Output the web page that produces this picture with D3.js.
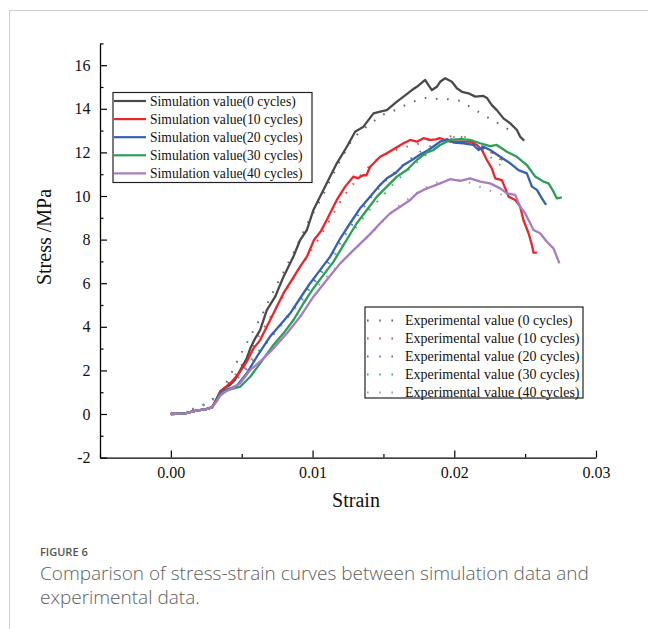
<!DOCTYPE html>
<html>
<head>
<meta charset="utf-8">
<script src="https://cdn.jsdelivr.net/npm/d3@7"></script>
<style>
  body { margin: 0; background: #fff; }
  svg { display: block; }
</style>
</head>
<body>
<div id="chart"></div>
<script>
// stress-strain data: [strain, stress MPa]
const sim0 = [[0,0],[0.001,0.03],[0.0018,0.15],[0.0025,0.22],[0.0029,0.3],[0.0032,0.65],[0.0035,1.05],[0.0038,1.2],[0.0041,1.3],[0.00454,1.58],[0.0049,2.02],[0.00536,2.55],[0.0056,3.0],[0.00595,3.47],[0.0063,3.85],[0.00677,4.77],[0.00736,5.38],[0.00795,6.3],[0.00865,7.22],[0.00912,7.98],[0.0096,8.44],[0.01006,9.36],[0.011,10.58],[0.01171,11.5],[0.01242,12.26],[0.013,12.95],[0.01359,13.18],[0.0143,13.79],[0.01477,13.87],[0.01524,13.94],[0.01595,14.33],[0.01642,14.56],[0.01701,14.86],[0.01736,15.01],[0.01778,15.24],[0.01795,15.32],[0.01818,15.09],[0.01842,14.86],[0.01877,15.01],[0.019,15.24],[0.01936,15.4],[0.01983,15.24],[0.02018,14.94],[0.02054,14.78],[0.021,14.71],[0.02148,14.56],[0.02206,14.59],[0.0223,14.5],[0.02265,14.17],[0.023,13.94],[0.02347,13.56],[0.02395,13.33],[0.02442,13.03],[0.02465,12.72],[0.02493,12.54]];
const sim10 = [[0,0],[0.001,0.03],[0.0018,0.15],[0.0025,0.22],[0.0029,0.3],[0.0032,0.65],[0.0035,1.02],[0.0038,1.2],[0.0043,1.48],[0.00489,1.94],[0.00536,2.4],[0.00583,3.01],[0.0063,3.39],[0.00677,4.0],[0.00736,4.77],[0.00795,5.54],[0.00854,6.15],[0.00912,6.76],[0.0096,7.22],[0.0101,7.98],[0.0106,8.4],[0.011,8.9],[0.01171,9.82],[0.0123,10.43],[0.01289,10.89],[0.0132,10.81],[0.01359,10.96],[0.0138,10.95],[0.01406,11.34],[0.01477,11.8],[0.01524,11.96],[0.01583,12.19],[0.01642,12.42],[0.01689,12.57],[0.01736,12.49],[0.01783,12.65],[0.0183,12.57],[0.0187,12.6],[0.019,12.65],[0.01971,12.49],[0.02042,12.49],[0.02112,12.49],[0.0216,12.34],[0.02195,12.11],[0.0223,11.65],[0.02265,11.27],[0.02289,10.81],[0.02336,10.73],[0.0236,10.35],[0.02383,9.97],[0.0243,9.82],[0.02465,9.51],[0.02488,8.9],[0.02524,8.29],[0.02548,7.75],[0.02559,7.4],[0.02583,7.4]];
const sim20 = [[0,0],[0.001,0.03],[0.0018,0.15],[0.0025,0.22],[0.0029,0.3],[0.0032,0.6],[0.0035,0.95],[0.0038,1.1],[0.0043,1.2],[0.00466,1.3],[0.00536,1.87],[0.00607,2.63],[0.007,3.55],[0.00771,4.08],[0.00842,4.62],[0.00912,5.31],[0.00983,6.0],[0.01054,6.61],[0.01124,7.22],[0.01195,8.05],[0.01265,8.75],[0.01336,9.44],[0.01406,9.97],[0.01465,10.43],[0.01524,10.81],[0.01583,11.04],[0.01642,11.42],[0.01701,11.65],[0.0176,11.9],[0.01818,12.11],[0.0185,12.26],[0.019,12.49],[0.01948,12.61],[0.01995,12.45],[0.02065,12.42],[0.02135,12.34],[0.02171,12.11],[0.02206,12.26],[0.02253,12.11],[0.02324,11.8],[0.02395,11.5],[0.02453,11.19],[0.02512,11.04],[0.02548,10.43],[0.02583,10.28],[0.02618,9.89],[0.02648,9.59]];
const sim30 = [[0,0],[0.001,0.03],[0.0018,0.15],[0.0025,0.22],[0.0029,0.3],[0.0032,0.58],[0.0035,0.9],[0.0038,1.05],[0.0043,1.15],[0.00489,1.25],[0.0056,1.71],[0.0063,2.32],[0.00724,3.17],[0.00795,3.7],[0.00865,4.31],[0.00936,5.08],[0.01006,5.77],[0.01077,6.38],[0.01148,6.99],[0.01218,7.75],[0.0126,8.2],[0.01312,8.75],[0.01383,9.36],[0.01454,9.97],[0.01524,10.43],[0.01595,10.89],[0.01665,11.19],[0.01736,11.65],[0.01807,12.0],[0.0185,12.1],[0.019,12.34],[0.01971,12.57],[0.02042,12.61],[0.02112,12.57],[0.02183,12.42],[0.02253,12.29],[0.023,12.34],[0.02371,12.03],[0.02442,11.8],[0.02512,11.42],[0.02571,10.89],[0.0263,10.66],[0.02665,10.58],[0.027,10.2],[0.02724,9.89],[0.02759,9.94]];
const sim40 = [[0,0],[0.001,0.03],[0.0018,0.15],[0.0025,0.22],[0.0029,0.3],[0.0032,0.55],[0.0035,0.85],[0.0038,1.0],[0.0042,1.15],[0.0045,1.25],[0.00489,1.41],[0.0056,2.02],[0.0063,2.4],[0.00724,3.01],[0.00819,3.7],[0.00912,4.46],[0.01006,5.38],[0.011,6.15],[0.01195,6.91],[0.01289,7.52],[0.01406,8.25],[0.01477,8.75],[0.01548,9.21],[0.01618,9.51],[0.01689,9.82],[0.01736,10.12],[0.01783,10.28],[0.0183,10.4],[0.019,10.58],[0.01971,10.77],[0.02042,10.69],[0.02112,10.81],[0.02183,10.66],[0.02253,10.58],[0.02324,10.35],[0.02371,10.12],[0.0243,10.05],[0.02465,9.51],[0.025,9.21],[0.02559,8.44],[0.02606,8.29],[0.02653,7.9],[0.027,7.6],[0.02742,6.91]];

const exp0 = [[0,0],[0.001,0.05],[0.0018,0.3],[0.0025,0.46],[0.0032,0.8],[0.0036,1.1],[0.0041,1.64],[0.0048,2.58],[0.0056,3.55],[0.0064,4.5],[0.0071,5.46],[0.0079,6.45],[0.0087,7.45],[0.0097,8.82],[0.0108,10.12],[0.0117,11.34],[0.0128,12.6],[0.0135,13.03],[0.0149,13.72],[0.0156,13.87],[0.0163,14.1],[0.0171,14.33],[0.018,14.5],[0.0188,14.45],[0.0196,14.44],[0.0204,14.37],[0.0211,14.1],[0.0218,13.82],[0.0226,13.52],[0.0233,13.26],[0.024,12.98]];
const exp10 = [[0,0],[0.001,0.05],[0.0018,0.3],[0.0025,0.46],[0.0032,0.8],[0.0038,1.2],[0.0045,1.75],[0.0053,2.55],[0.006,3.35],[0.0068,4.2],[0.0075,4.95],[0.0083,5.85],[0.0091,6.7],[0.0099,7.5],[0.0106,8.2],[0.0113,9.0],[0.0121,9.9],[0.0131,10.73],[0.0136,11.12],[0.0145,11.65],[0.0154,12.0],[0.0162,12.19],[0.0176,12.42],[0.0184,12.63],[0.0191,12.67],[0.0199,12.75],[0.0206,12.69],[0.0214,12.52],[0.0222,12.19],[0.0229,11.85],[0.0237,11.45]];
const exp20 = [[0,0],[0.001,0.05],[0.0018,0.3],[0.0025,0.46],[0.0032,0.8],[0.0038,1.15],[0.0046,1.55],[0.0054,2.1],[0.0062,2.8],[0.007,3.5],[0.0078,4.15],[0.0086,4.8],[0.0094,5.5],[0.0102,6.2],[0.011,6.9],[0.0118,7.7],[0.0126,8.5],[0.0134,9.3],[0.0142,10.0],[0.015,10.6],[0.0158,11.1],[0.0166,11.55],[0.0174,11.95],[0.0182,12.25],[0.019,12.5],[0.0198,12.62],[0.0206,12.6],[0.0214,12.45],[0.0222,12.2],[0.023,11.85],[0.0237,11.5]];
const exp30 = [[0,0],[0.001,0.05],[0.0018,0.3],[0.0025,0.46],[0.0032,0.78],[0.0038,1.1],[0.0046,1.6],[0.0054,2.3],[0.006,2.75],[0.0068,3.35],[0.0076,3.95],[0.0084,4.6],[0.0092,5.25],[0.01,5.9],[0.0108,6.6],[0.0116,7.3],[0.0124,8.0],[0.0132,8.67],[0.014,9.35],[0.0149,9.97],[0.0157,10.55],[0.0165,11.05],[0.0173,11.5],[0.0181,11.95],[0.019,12.35],[0.0199,12.7],[0.0207,12.72],[0.0215,12.45],[0.0222,12.0],[0.0228,11.62],[0.0235,11.31]];
const exp40 = [[0,0],[0.001,0.05],[0.0018,0.3],[0.0025,0.46],[0.0032,0.75],[0.004,1.2],[0.0048,1.75],[0.0056,2.35],[0.0064,2.95],[0.0072,3.6],[0.008,4.2],[0.0089,4.95],[0.0097,5.5],[0.0105,5.95],[0.0113,6.5],[0.0121,7.0],[0.0128,7.45],[0.0136,7.95],[0.0144,8.45],[0.0152,9.0],[0.016,9.5],[0.0168,9.9],[0.0176,10.25],[0.0184,10.55],[0.0192,10.72],[0.02,10.78],[0.0211,10.6],[0.0219,10.4],[0.0226,10.23],[0.0234,10.05]];

const simNames = ["Simulation value(0 cycles)", "Simulation value(10 cycles)", "Simulation value(20 cycles)", "Simulation value(30 cycles)", "Simulation value(40 cycles)"];
const expNames = ["Experimental value (0 cycles)", "Experimental value (10 cycles)", "Experimental value (20 cycles)", "Experimental value (30 cycles)", "Experimental value (40 cycles)"];
const xTicks = [0, 0.01, 0.02, 0.03];
const yTicks = [-2, 0, 2, 4, 6, 8, 10, 12, 14, 16];

const colors = ["#4a4a4a", "#e8262b", "#3561b2", "#2c9e55", "#a77cc0"];
const sims = [sim0, sim10, sim20, sim30, sim40];
const exps = [exp0, exp10, exp20, exp30, exp40];

const W = 648, H = 629;
const serif = "'Liberation Serif', 'Times New Roman', serif";

const svg = d3.select("#chart")
  .append("svg")
    .attr("width", W)
    .attr("height", H);

svg.append("rect").attr("width", W).attr("height", H).attr("fill", "#fff");

// frame of the figure panel
svg.append("line").attr("x1", 9).attr("x2", W).attr("y1", 10.5).attr("y2", 10.5)
  .attr("stroke", "#cfcfcf").attr("stroke-width", 1);
svg.append("line").attr("x1", 9.5).attr("x2", 9.5).attr("y1", 10).attr("y2", H)
  .attr("stroke", "#cfcfcf").attr("stroke-width", 1);

// scales
const x = d3.scaleLinear().domain([-0.005, 0.03]).range([100, 596]);
const y = d3.scaleLinear().domain([-2, 17]).range([457.6, 43.4]);

// minor ticks
svg.append("g")
  .attr("transform", `translate(0,${y(-2)})`)
  .call(d3.axisBottom(x).tickValues([-0.005, 0.005, 0.015, 0.025]).tickSize(-3.5).tickFormat(""))
  .call(g => g.select(".domain").remove())
  .selectAll("line").attr("stroke-width", 1.2);
svg.append("g")
  .attr("transform", `translate(${x(-0.005)},0)`)
  .call(d3.axisLeft(y).tickValues([-1, 1, 3, 5, 7, 9, 11, 13, 15, 17]).tickSize(-3.5).tickFormat(""))
  .call(g => g.select(".domain").remove())
  .selectAll("line").attr("stroke-width", 1.2);

// X axis
const xAxis = svg.append("g")
  .attr("transform", `translate(0,${y(-2)})`)
  .call(d3.axisBottom(x).tickValues(xTicks).tickSize(-7).tickSizeOuter(0).tickPadding(9)
    .tickFormat(d3.format(".2f")));
xAxis.select(".domain").attr("stroke-width", 1.3);
xAxis.selectAll(".tick line").attr("stroke-width", 1.2);
xAxis.selectAll("text")
  .style("font-family", serif).style("font-size", "16px").attr("fill", "#111");

// Y axis
const yAxis = svg.append("g")
  .attr("transform", `translate(${x(-0.005)},0)`)
  .call(d3.axisLeft(y).tickValues(yTicks).tickSize(-7).tickSizeOuter(0).tickPadding(9.5)
    .tickFormat(d => String(d)));
yAxis.select(".domain").attr("stroke-width", 1.3);
yAxis.selectAll(".tick line").attr("stroke-width", 1.2);
yAxis.selectAll("text")
  .style("font-family", serif).style("font-size", "16px").attr("fill", "#111");

// axis titles
svg.append("text")
  .attr("x", 356).attr("y", 507)
  .attr("text-anchor", "middle")
  .style("font-family", serif).style("font-size", "20px").attr("fill", "#111")
  .text("Strain");
svg.append("text")
  .attr("transform", "translate(51,237) rotate(-90)")
  .attr("text-anchor", "middle")
  .style("font-family", serif).style("font-size", "20px").attr("fill", "#111")
  .text("Stress /MPa");

const line = d3.line().x(d => x(d[0])).y(d => y(d[1]));

// experimental curves (dotted)
svg.selectAll(".exp")
  .data(exps)
  .join("path")
    .attr("class", "exp")
    .attr("fill", "none")
    .attr("stroke", (d, i) => colors[i])
    .attr("stroke-width", 2)
    .attr("stroke-dasharray", "1.6,9.6")
    .attr("opacity", 0.85)
    .attr("d", line);

// simulation curves
svg.selectAll(".sim")
  .data(sims)
  .join("path")
    .attr("class", "sim")
    .attr("fill", "none")
    .attr("stroke", (d, i) => colors[i])
    .attr("stroke-width", 2.3)
    .attr("stroke-linejoin", "round")
    .attr("d", line);

// legend - simulation
const leg1 = svg.append("g");
leg1.append("rect")
  .attr("x", 113).attr("y", 92.5).attr("width", 199).attr("height", 90)
  .attr("fill", "#fff").attr("stroke", "#222").attr("stroke-width", 1.2);
simNames.forEach((name, i) => {
  const yy = 101 + i * 18.1;
  leg1.append("line").attr("x1", 114).attr("x2", 146).attr("y1", yy).attr("y2", yy)
    .attr("stroke", colors[i]).attr("stroke-width", 2.2);
  leg1.append("text").attr("x", 150).attr("y", yy + 4.6)
    .style("font-family", serif).style("font-size", "13.6px").attr("fill", "#111")
    .text(name);
});

// legend - experimental
const leg2 = svg.append("g");
leg2.append("rect")
  .attr("x", 365).attr("y", 307).attr("width", 218).attr("height", 91)
  .attr("fill", "#fff").attr("stroke", "#222").attr("stroke-width", 1.2);
expNames.forEach((name, i) => {
  const yy = 320.5 + i * 18;
  leg2.append("line").attr("x1", 367).attr("x2", 396).attr("y1", yy).attr("y2", yy)
    .attr("stroke", colors[i]).attr("stroke-width", 2)
    .attr("stroke-dasharray", "1.6,10.6").attr("opacity", 0.85);
  leg2.append("text").attr("x", 405).attr("y", yy + 4.6)
    .style("font-family", serif).style("font-size", "14px").attr("fill", "#111")
    .text(name);
});

// caption
svg.append("text")
  .attr("x", 40).attr("y", 556)
  .style("font-family", "'Open Sans', sans-serif").style("font-size", "11px").style("font-weight", 600)
  .attr("fill", "#555")
  .text("FIGURE 6");
svg.append("text")
  .attr("x", 40).attr("y", 580)
  .style("font-family", "'Open Sans', sans-serif").style("font-size", "19px").style("font-weight", 300)
  .attr("fill", "#606060")
  .text("Comparison of stress-strain curves between simulation data and");
svg.append("text")
  .attr("x", 40).attr("y", 604)
  .style("font-family", "'Open Sans', sans-serif").style("font-size", "19px").style("font-weight", 300)
  .attr("fill", "#606060")
  .text("experimental data.");
</script>
</body>
</html>
